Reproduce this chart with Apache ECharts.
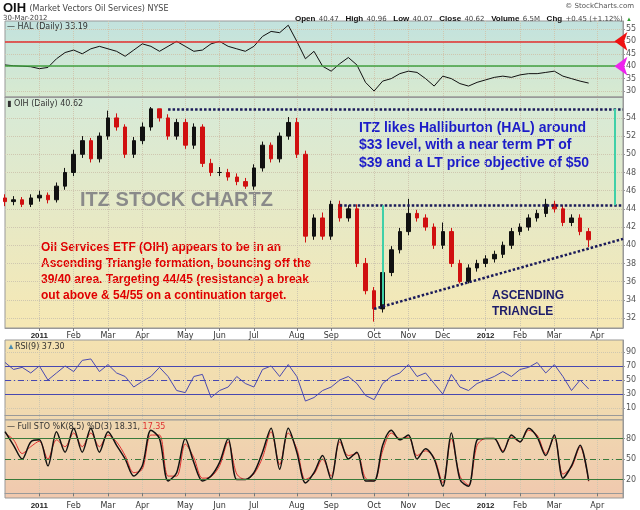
<!DOCTYPE html>
<html>
<head>
<meta charset="utf-8">
<script src="https://cdn.jsdelivr.net/npm/echarts@6/dist/echarts.min.js"></script>
<style>html,body{margin:0;padding:0;background:#fff}#main{width:640px;height:510px}</style>
</head>
<body>
<div id="main"></div>
<script>
// weekly dates (Fridays), 10-Dec-2010 .. 27-Apr-2012
var weeks = [];
(function() {
    var d = new Date(Date.UTC(2010, 11, 10));
    for (var i = 0; i < 73; i++) {
        weeks.push(d.toISOString().slice(0, 10));
        d = new Date(d.getTime() + 7 * 86400000);
    }
})();

var halClose = [40.5,40.2,40.0,39.8, 39.0,39.5,43.0,45.5, 46.5,45.0,47.0,48.0, 47.0,46.0,44.0,46.5,
    49.0,48.0,46.0,48.0,50.0, 48.0,46.0,46.5,49.0, 50.0,48.0,47.0,46.0, 48.0,52.0,54.0,53.5,56.5,
    50.0,43.0,46.0,40.0, 38.0,41.0,43.5,40.5,33.5, 30.0,34.0,35.0,37.0, 38.0,37.5,35.0,32.0,
    36.0,35.0,33.0,32.0,33.5, 34.5,35.5,36.0,35.5, 36.5,37.0,37.0,37.5, 38.0,36.0,35.0,34.0,33.2];

var oihOpen = [45.2,44.8,45.0,44.5, 45.2,45.5,45.0,46.5, 48.0,50.0,51.5,49.5, 52.0,54.0,53.0,50.0,
    51.5,53.0,55.0,54.0,52.0, 53.5,51.0,53.0,49.0, 48.0,48.0,47.5,47.0, 46.5,48.5,51.0,49.5,52.0,
    53.5,50.0,41.0,43.0, 41.0,44.5,43.0,44.0,38.0, 35.0,33.0,37.0,39.5, 41.5,43.5,43.0,42.0,
    40.0,41.5,38.0,36.0,37.5, 38.0,38.5,39.0,40.0, 41.5,42.0,43.0,43.5, 44.5,44.0,42.5,43.0,41.5];
var oihClose = [44.8,45.0,44.5,45.2, 45.5,45.0,46.5,48.0, 50.0,51.5,49.5,52.0, 54.0,53.0,50.0,51.5,
    53.0,55.0,54.0,52.0,53.5, 51.0,53.0,49.0,48.0, 48.0,47.5,47.0,46.5, 48.5,51.0,49.5,52.0,53.5,
    50.0,41.0,43.0,41.0, 44.5,43.0,44.0,38.0,35.0, 33.0,37.0,39.5,41.5, 43.5,43.0,42.0,40.0,
    41.5,38.0,36.0,37.5,38.0, 38.5,39.0,40.0,41.5, 42.0,43.0,43.5,44.5, 44.0,42.5,43.0,41.5,40.6];
var oihHigh = [45.6,45.4,45.3,45.6, 46.0,45.8,46.9,48.5, 50.5,52.0,51.8,52.4, 54.8,54.5,53.3,51.9,
    53.5,55.2,55.0,54.4,53.9, 53.9,53.4,53.3,49.5, 48.6,48.4,47.9,47.4, 48.9,51.4,51.3,52.4,54.1,
    54.0,50.4,43.4,43.6, 44.9,44.9,44.4,44.5,38.6, 35.4,37.4,39.9,41.9, 45.1,43.9,43.4,42.4,
    42.5,41.9,38.4,37.9,38.4, 38.9,39.4,40.4,41.9, 42.4,43.4,43.9,45.1, 44.9,44.4,43.4,43.4,41.9];
var oihLow = [44.3,44.4,44.2,44.2, 44.8,44.6,44.7,46.1, 47.6,49.6,49.1,49.1, 51.6,52.6,49.6,49.6,
    51.1,52.6,53.6,51.6,51.6, 50.6,50.6,48.6,47.6, 47.6,47.1,46.6,46.2, 46.1,48.1,49.1,49.1,51.6,
    49.6,40.3,40.6,40.6, 40.6,42.6,42.6,37.6,34.6, 31.6,32.6,36.6,39.1, 41.1,42.6,41.6,39.6,
    39.6,37.6,35.8,35.8,37.1, 37.6,38.1,38.6,39.6, 41.1,41.6,42.6,43.1, 43.6,42.1,42.1,41.1,39.8];

var rsi = [75,65,68,60, 70,50,60,70, 62,78,80,62, 72,60,55,40, 48,55,68,55,35, 32,55,58,25,
    35,40,55,45, 40,65,70,55,72, 55,20,25,35, 40,50,55,45,28, 22,45,55,60, 72,55,60,45,
    30,58,40,35,45, 50,55,62,55, 65,68,75,60, 72,55,35,50,37.3];

var stoK = [90,70,50,75, 78,40,90,60, 95,60,95,60, 90,70,50,25, 40,92,80,18,30, 80,45,18,25,
    45,80,20,20, 30,60,95,35,95, 60,15,30,55, 20,80,50,60,18, 18,70,92,78, 85,50,65,50,
    10,88,20,10,78, 80,80,60,85, 75,95,82,55, 85,22,40,70,18.31];
var stoD = [88,78,58,68, 76,50,78,68, 88,68,88,68, 85,75,55,30, 35,85,85,25,25, 72,52,22,24,
    40,75,28,20, 28,52,90,42,88, 65,20,28,50, 25,75,55,58,22, 18,62,88,80, 82,55,62,52,
    15,80,25,12,70, 80,80,62,82, 75,92,85,58, 82,28,38,68,17.35];

var halTicks = [30, 35, 40, 45, 50, 55];
var oihTicks = [32, 34, 36, 38, 40, 42, 44, 46, 48, 50, 52, 54];
var rsiTicks = [10, 30, 50, 70, 90];
var stoTicks = [20, 50, 80];
var monthNames = ['Jan','Feb','Mar','Apr','May','Jun','Jul','Aug','Sep','Oct','Nov','Dec'];

var chart = echarts.init(document.getElementById('main'));

function monthStart(idx, val) {
    return parseInt(val.slice(8, 10), 10) <= 7;
}
function bg(c1, c2) {
    return new echarts.graphic.LinearGradient(0, 0, 0, 1, [{offset: 0, color: c1}, {offset: 1, color: c2}]);
}
function xAxisFor(gridIndex, showLabel) {
    return {
        type: 'category', gridIndex: gridIndex, data: weeks, boundaryGap: false,
        axisLine: {lineStyle: {color: '#999'}},
        axisTick: {show: showLabel, interval: monthStart, length: 3, lineStyle: {color: '#777'}},
        splitLine: {show: true, interval: monthStart, lineStyle: {color: '#cfc7b0', type: 'dotted'}},
        axisLabel: {
            show: showLabel, interval: monthStart, fontSize: 8, color: '#333', margin: 4,
            fontFamily: 'DejaVu Sans',
            formatter: function(v) {
                var m = parseInt(v.slice(5, 7), 10) - 1;
                if (m === 0) return '{y|' + v.slice(0, 4) + '}';
                return monthNames[m];
            },
            rich: {y: {fontWeight: 'bold', fontSize: 8, color: '#222', fontFamily: 'Liberation Sans'}}
        }
    };
}
function yAxisFor(gridIndex, min, max, ticks) {
    return {
        type: 'value', gridIndex: gridIndex, position: 'right', min: min, max: max, scale: true,
        axisLine: {show: true, lineStyle: {color: '#999'}},
        axisTick: {show: true, customValues: ticks, length: 2, lineStyle: {color: '#999'}},
        axisLabel: {customValues: ticks, fontSize: 8, color: '#555', margin: 3, fontFamily: 'DejaVu Sans'},
        splitLine: {show: true, lineStyle: {color: '#cfc7b0', type: 'dotted'}}
    };
}

var dots = {color: '#1a1a5a', type: [2.5, 2], width: 2.5};
var teal = {color: '#40d0a8', type: 'solid', width: 2};

var option = {
    animation: false,
    grid: [
        {left: 5, right: 17, top: 21, height: 76, show: true, borderColor: '#999', backgroundColor: bg('#c2e2de', '#d8ead0')},
        {left: 5, right: 17, top: 97, height: 231, show: true, borderColor: '#999', backgroundColor: bg('#d6ead8', '#f6e8b4')},
        {left: 5, right: 17, top: 340, height: 80, show: true, borderColor: '#999', backgroundColor: bg('#f4e2b0', '#f0d8b0')},
        {left: 5, right: 17, top: 420, height: 80, show: true, borderColor: '#999', backgroundColor: bg('#f0d8b0', '#f0c8ae')}
    ],
    xAxis: [xAxisFor(0, false), xAxisFor(1, true), xAxisFor(2, false), xAxisFor(3, true)],
    yAxis: [yAxisFor(0, 27.6, 58.2, halTicks), yAxisFor(1, 30.9, 56.3, oihTicks),
            yAxisFor(2, -7, 107, rsiTicks), yAxisFor(3, -7, 107, stoTicks)],
    series: [
        {
            name: 'HAL', type: 'line', xAxisIndex: 0, yAxisIndex: 0, data: halClose, showSymbol: false,
            lineStyle: {color: '#111', width: 1}, z: 3,
            markLine: {
                symbol: 'none', silent: true, label: {show: false},
                data: [
                    {yAxis: 50, lineStyle: {color: '#e03030', width: 1.5, type: 'solid'}},
                    {yAxis: 40, lineStyle: {color: '#40a040', width: 1.5, type: 'solid'}}
                ]
            },
            markPoint: {
                silent: true, label: {show: false}, symbol: 'arrow', symbolSize: [14, 13], symbolRotate: 90,
                data: [
                    {coord: [weeks[71], 50], itemStyle: {color: '#ee1111'}},
                    {coord: [weeks[71], 40], itemStyle: {color: '#ee22ee'}}
                ]
            }
        },
        {
            name: 'OIH', type: 'candlestick', xAxisIndex: 1, yAxisIndex: 1, barWidth: 4,
            data: oihOpen.map(function(o, i) { return [o, oihClose[i], oihLow[i], oihHigh[i]]; }),
            itemStyle: {color: '#111', color0: '#d01010', borderColor: '#111', borderColor0: '#d01010', borderWidth: 1},
            markLine: {
                symbol: 'none', silent: true, label: {show: false},
                data: [
                    [{coord: [weeks[19], 55.0], lineStyle: dots}, {coord: [weeks[72], 55.0]}],
                    [{coord: [weeks[39], 44.4], lineStyle: dots}, {coord: [weeks[72], 44.4]}],
                    [{coord: [weeks[43], 33.0], lineStyle: dots}, {coord: [weeks[72], 40.7]}],
                    [{coord: [weeks[44], 33.5], lineStyle: teal}, {coord: [weeks[44], 44.4]}],
                    [{coord: [weeks[71], 44.4], lineStyle: teal}, {coord: [weeks[71], 55.0]}]
                ]
            }
        },
        {
            name: 'RSI', type: 'line', xAxisIndex: 2, yAxisIndex: 2, data: rsi, showSymbol: false,
            lineStyle: {color: '#4a4ab0', width: 1}, z: 3,
            markLine: {
                symbol: 'none', silent: true, label: {show: false},
                data: [
                    {yAxis: 70, lineStyle: {color: '#4848b0', width: 1, type: 'solid'}},
                    {yAxis: 30, lineStyle: {color: '#4848b0', width: 1, type: 'solid'}},
                    {yAxis: 50, lineStyle: {color: '#4848b0', width: 1, type: [6, 3, 1, 3]}}
                ]
            }
        },
        {
            name: '%K', type: 'line', xAxisIndex: 3, yAxisIndex: 3, data: stoK, showSymbol: false, smooth: 0.3,
            lineStyle: {color: '#111', width: 1.5}, z: 4,
            markLine: {
                symbol: 'none', silent: true, label: {show: false},
                data: [
                    {yAxis: 80, lineStyle: {color: '#3a7a3a', width: 1, type: 'solid'}},
                    {yAxis: 20, lineStyle: {color: '#3a7a3a', width: 1, type: 'solid'}},
                    {yAxis: 50, lineStyle: {color: '#3a7a3a', width: 1, type: [6, 3, 1, 3]}}
                ]
            }
        },
        {
            name: '%D', type: 'line', xAxisIndex: 3, yAxisIndex: 3, data: stoD, showSymbol: false, smooth: 0.3,
            lineStyle: {color: '#e03030', width: 1}, z: 3
        }
    ],
    graphic: [
        {type: 'text', left: 3, top: 2, style: {text: '{b|OIH} {s|(Market Vectors Oil Services) NYSE}',
            rich: {b: {fontSize: 13, fontWeight: 'bold', fontFamily: 'Liberation Sans', fill: '#111'},
                   s: {fontSize: 8, fontFamily: 'DejaVu Sans', fill: '#444'}}}},
        {type: 'text', left: 3, top: 15, style: {text: '30-Mar-2012', fontSize: 7, fontFamily: 'DejaVu Sans', fill: '#444'}},
        {type: 'text', right: 6, top: 3, style: {text: '© StockCharts.com', fontSize: 7, fontFamily: 'DejaVu Sans', fill: '#555'}},
        {type: 'text', right: 8, top: 13, style: {
            text: '{k|Open} {v|40.47}  {k|High} {v|40.96}  {k|Low} {v|40.07}  {k|Close} {v|40.62}  {k|Volume} {v|6.5M}  {k|Chg} {v|+0.45 (+1.12%)} {g|▲}',
            rich: {k: {fontSize: 8, fontWeight: 'bold', fontFamily: 'Liberation Sans', fill: '#111'},
                   v: {fontSize: 7, fontFamily: 'DejaVu Sans', fill: '#444'},
                   g: {fontSize: 6, fill: '#2a9a2a'}}}},
        {type: 'text', left: 7, top: 23, style: {text: '— HAL (Daily) 33.19', fontSize: 8, fontFamily: 'DejaVu Sans', fill: '#333'}},
        {type: 'text', left: 7, top: 100, style: {text: '▮ OIH (Daily) 40.62', fontSize: 8, fontFamily: 'DejaVu Sans', fill: '#333'}},
        {type: 'text', left: 7, top: 343, style: {text: '{i|▲}RSI(9) 37.30', fontSize: 8, fontFamily: 'DejaVu Sans', fill: '#333',
            rich: {i: {fontSize: 8, fill: '#4a8ab0'}}}},
        {type: 'text', left: 7, top: 423, style: {text: '— Full STO %K(8,5) %D(3) 18.31, {r|17.35}', fontSize: 8, fontFamily: 'DejaVu Sans', fill: '#333',
            rich: {r: {fontSize: 8, fill: '#e03030', fontFamily: 'DejaVu Sans'}}}},
        {type: 'text', left: 359, top: 119, style: {
            text: 'ITZ likes Halliburton (HAL) around\n$33 level, with a near term PT of\n$39 and a LT price objective of $50',
            fontSize: 14, fontWeight: 'bold', fontFamily: 'Liberation Sans', fill: '#1c1cc8', lineHeight: 17.5}},
        {type: 'text', left: 80, top: 190, style: {text: 'ITZ STOCK CHARTZ', fontSize: 20, fontWeight: 'bold',
            fontFamily: 'Liberation Sans', fill: '#8a8a8a'}},
        {type: 'text', left: 41, top: 240, style: {
            text: 'Oil Services ETF (OIH) appears to be in an\nAscending Triangle formation, bouncing off the\n39/40 area. Targeting 44/45 (resistance) a break\nout above & 54/55 on a continuation target.',
            fontSize: 12, fontWeight: 'bold', fontFamily: 'Liberation Sans', fill: '#e00000', lineHeight: 16}},
        {type: 'text', left: 492, top: 288, style: {text: 'ASCENDING\nTRIANGLE', fontSize: 12, fontWeight: 'bold',
            fontFamily: 'Liberation Sans', fill: '#1c1c6a', lineHeight: 16}}
    ]
};
chart.setOption(option);
</script>
</body>
</html>
